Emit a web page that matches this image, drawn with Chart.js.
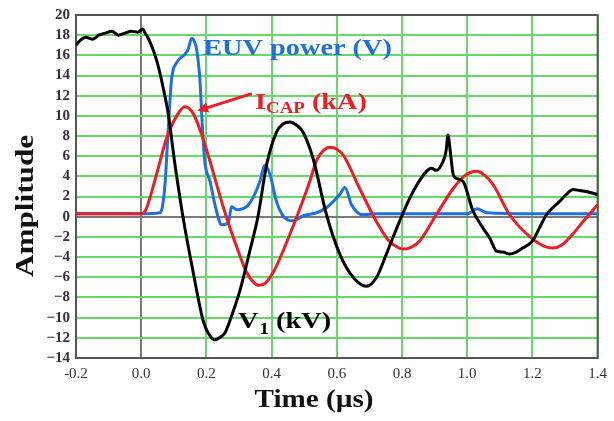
<!DOCTYPE html>
<html>
<head>
<meta charset="utf-8">
<script src="https://cdn.jsdelivr.net/npm/chart.js@4.4.1/dist/chart.umd.min.js"></script>
<style>
  html, body { margin: 0; padding: 0; background: #fff; }
  #wrap { width: 614px; height: 421px; }
</style>
</head>
<body>
<div id="wrap"><canvas id="chart" width="614" height="421"></canvas></div>
<script>
// === DATA (time in µs) ===
const v1Time = [-0.2, -0.19, -0.17, -0.15, -0.13, -0.11, -0.09, -0.07, -0.05, -0.03, -0.01, 0.005, 0.012, 0.02, 0.036, 0.05, 0.068, 0.083, 0.093, 0.103, 0.114, 0.128, 0.16, 0.19, 0.205, 0.226, 0.24, 0.257, 0.272, 0.303, 0.333, 0.358, 0.385, 0.415, 0.435, 0.456, 0.476, 0.496, 0.527, 0.568, 0.609, 0.65, 0.691, 0.722, 0.752, 0.793, 0.834, 0.875, 0.89, 0.906, 0.926, 0.935, 0.941, 0.948, 0.957, 0.967, 0.987, 1.018, 1.048, 1.069, 1.09, 1.11, 1.13, 1.15, 1.17, 1.2, 1.22, 1.243, 1.283, 1.31, 1.324, 1.345, 1.365, 1.4];
const v1Vals = [17.0, 17.4, 17.8, 17.6, 18.0, 18.2, 18.4, 18.0, 18.2, 18.4, 18.3, 18.6, 18.2, 17.8, 16.6, 15.2, 12.7, 10.2, 7.8, 5.3, 2.9, 0.0, -5.6, -10.3, -11.5, -12.2, -12.0, -11.5, -10.3, -7.3, -3.4, 0.0, 5.2, 8.4, 9.2, 9.4, 9.1, 8.4, 5.8, 0.25, -3.7, -6.0, -6.9, -6.0, -3.7, -0.4, 2.5, 4.5, 4.8, 4.6, 5.5, 6.5, 8.1, 6.5, 4.2, 3.8, 3.5, 0.55, -1.1, -2.1, -3.4, -3.5, -3.7, -3.5, -3.1, -2.4, -1.2, 0.2, 1.5, 2.4, 2.7, 2.6, 2.5, 2.2];

const icapTime = [-0.2, -0.1, 0.0, 0.008, 0.017, 0.047, 0.078, 0.109, 0.134, 0.16, 0.185, 0.21, 0.235, 0.262, 0.293, 0.323, 0.345, 0.36, 0.38, 0.41, 0.435, 0.476, 0.517, 0.538, 0.56, 0.579, 0.6, 0.62, 0.67, 0.72, 0.76, 0.785, 0.803, 0.83, 0.854, 0.906, 0.957, 0.99, 1.028, 1.05, 1.079, 1.13, 1.2, 1.235, 1.263, 1.29, 1.324, 1.36, 1.4];
const icapVals = [0.3, 0.3, 0.3, 0.4, 0.9, 4.2, 7.8, 10.0, 10.9, 10.2, 8.2, 5.6, 2.8, -0.1, -3.0, -5.5, -6.5, -6.8, -6.6, -5.2, -3.4, -0.1, 3.5, 5.6, 6.6, 6.9, 6.7, 6.1, 2.8, -0.4, -2.4, -3.0, -3.2, -3.0, -2.4, 0.25, 2.8, 4.0, 4.5, 4.2, 3.2, 0.2, -2.2, -2.9, -3.1, -2.8, -1.7, -0.3, 1.2];

const euvTime = [-0.2, 0.0, 0.057, 0.065, 0.073, 0.083, 0.093, 0.109, 0.134, 0.144, 0.155, 0.163, 0.17, 0.18, 0.188, 0.195, 0.211, 0.231, 0.247, 0.267, 0.277, 0.293, 0.323, 0.343, 0.364, 0.379, 0.395, 0.415, 0.44, 0.466, 0.497, 0.538, 0.568, 0.609, 0.625, 0.645, 0.68, 0.72, 0.85, 1.0, 1.03, 1.06, 1.2, 1.4];
const euvVals = [0.3, 0.3, 0.4, 1.0, 3.2, 8.7, 13.6, 15.3, 16.1, 16.6, 17.7, 17.4, 16.6, 13.6, 8.7, 5.5, 3.5, 0.55, -0.8, -0.6, 1.0, 0.7, 1.0, 1.9, 3.5, 5.1, 4.2, 1.5, -0.1, -0.4, 0.1, 0.4, 0.9, 2.2, 2.9, 1.2, 0.2, 0.3, 0.3, 0.3, 0.8, 0.4, 0.3, 0.3];

// axis ranges
const xMin = -0.2, xMax = 1.4, xStep = 0.2;
const yMin = -14, yMax = 20, yStep = 2;

// === STYLE ===
const GREEN = "#66d96a";
const AXIS0 = "#7a7a7a";
const RED = "#ee1c24";
const BLUE = "#1f6fe0";
const SERIF = "'Liberation Serif', 'Times New Roman', serif";
const STRETCH = 1.18; // the source art is a bit wide

function toPoints(ts, vs) {
  return ts.map((t, i) => ({ x: t, y: vs[i] }));
}

function wideText(ctx, str, x, y, sx) {
  ctx.save();
  ctx.translate(x, y);
  ctx.scale(sx, 1);
  ctx.fillText(str, 0, 0);
  ctx.restore();
  return ctx.measureText(str).width * sx;
}

const isZero = (v) => Math.abs(v) < 1e-9;

// labels, arrow, frame and axis titles
const overlay = {
  id: "overlay",
  beforeDatasetsDraw(chart) {
    const { ctx, chartArea: a } = chart;
    ctx.save();
    ctx.strokeStyle = "#555";
    ctx.lineWidth = 2;
    ctx.strokeRect(a.left, a.top, a.right - a.left, a.bottom - a.top);
    ctx.restore();
  },
  afterDraw(chart) {
    const { ctx, scales } = chart;
    const px = (t) => scales.x.getPixelForValue(t);
    const py = (v) => scales.y.getPixelForValue(v);
    ctx.save();
    ctx.textBaseline = "alphabetic";
    ctx.textAlign = "left";

    // EUV power (V)
    ctx.fillStyle = BLUE;
    ctx.font = "bold 24px " + SERIF;
    wideText(ctx, "EUV power (V)", px(0.19), py(16.0), STRETCH);

    // arrow to the current peak
    const ax0 = px(0.339), ay0 = py(12.2);
    const ax1 = px(0.172), ay1 = py(10.5);
    ctx.strokeStyle = RED;
    ctx.fillStyle = RED;
    ctx.lineWidth = 3;
    ctx.beginPath();
    ctx.moveTo(ax0, ay0);
    ctx.lineTo(ax1 + 8, ay1 - 2.5);
    ctx.stroke();
    const ang = Math.atan2(ay1 - ay0, ax1 - ax0);
    ctx.beginPath();
    ctx.moveTo(ax1, ay1);
    ctx.lineTo(ax1 - 12 * Math.cos(ang - 0.45), ay1 - 12 * Math.sin(ang - 0.45));
    ctx.lineTo(ax1 - 12 * Math.cos(ang + 0.45), ay1 - 12 * Math.sin(ang + 0.45));
    ctx.closePath();
    ctx.fill();

    // I_CAP (kA)
    let x = px(0.349), y = py(10.7);
    ctx.font = "bold 24px " + SERIF;
    x += wideText(ctx, "I", x, y, STRETCH);
    ctx.font = "bold 16px " + SERIF;
    x += wideText(ctx, "CAP", x, y + 4, STRETCH);
    ctx.font = "bold 24px " + SERIF;
    wideText(ctx, " (kA)", x, y, STRETCH);

    // V_1 (kV)
    ctx.fillStyle = "#000";
    x = px(0.297); y = py(-11.0);
    ctx.font = "bold 24px " + SERIF;
    x += wideText(ctx, "V", x, y, STRETCH);
    ctx.font = "bold 16px " + SERIF;
    x += wideText(ctx, "1", x + 1, y + 6, STRETCH) + 1;
    ctx.font = "bold 24px " + SERIF;
    wideText(ctx, " (kV)", x, y, STRETCH);

    // axis titles
    ctx.fillStyle = "#111";
    ctx.font = "bold 26px " + SERIF;
    ctx.textAlign = "center";
    wideText(ctx, "Time (\u00b5s)", 314, 407, 1.12);

    ctx.save();
    ctx.translate(33, 206);
    ctx.rotate(-Math.PI / 2);
    ctx.scale(1.2, 1);
    ctx.fillText("Amplitude", 0, 0);
    ctx.restore();

    ctx.restore();
  },
};

const lineStyle = { borderWidth: 3, pointRadius: 0, fill: false, cubicInterpolationMode: "monotone" };

new Chart(document.getElementById("chart"), {
  type: "line",
  data: {
    datasets: [
      { label: "V1 (kV)", data: toPoints(v1Time, v1Vals), borderColor: "#000", ...lineStyle },
      { label: "ICAP (kA)", data: toPoints(icapTime, icapVals), borderColor: RED, ...lineStyle },
      { label: "EUV power (V)", data: toPoints(euvTime, euvVals), borderColor: BLUE, ...lineStyle },
    ],
  },
  options: {
    responsive: false,
    animation: false,
    devicePixelRatio: 1,
    layout: { padding: { top: 12, right: 16, left: 0, bottom: 0 } },
    plugins: { legend: { display: false }, tooltip: { enabled: false } },
    scales: {
      x: {
        type: "linear",
        min: xMin,
        max: xMax,
        afterFit: (s) => { s.height = 63; },
        grid: {
          drawTicks: false,
          lineWidth: 2,
          color: (c) => (isZero(c.tick.value) ? AXIS0 : GREEN),
        },
        border: { display: false },
        ticks: {
          stepSize: xStep,
          autoSkip: false,
          maxRotation: 0,
          padding: 7,
          color: "#333",
          font: { family: SERIF, size: 15 },
          callback: (v) => (isZero(v) ? "0.0" : v.toFixed(1)),
        },
      },
      y: {
        min: yMin,
        max: yMax,
        afterFit: (s) => { s.width = 76; },
        grid: {
          drawTicks: false,
          lineWidth: 2,
          color: (c) => (isZero(c.tick.value) ? AXIS0 : GREEN),
        },
        border: { display: false },
        ticks: {
          stepSize: yStep,
          autoSkip: false,
          padding: 6,
          color: "#333",
          font: { family: SERIF, size: 15, weight: "bold" },
          callback: (v) => (isZero(v) ? "0" : v < 0 ? "\u2212" + Math.abs(v) : String(v)),
        },
      },
    },
  },
  plugins: [overlay],
});
</script>
</body>
</html>
